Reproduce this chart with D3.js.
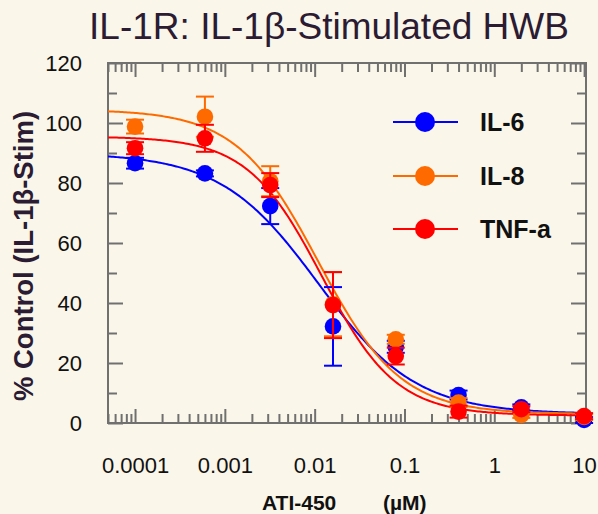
<!DOCTYPE html>
<html>
<head>
<meta charset="utf-8">
<script src="https://cdn.jsdelivr.net/npm/d3@7"></script>
<style>
  html, body { margin: 0; padding: 0; background: #FAF6E9; }
  svg { display: block; }
  text { font-family: "Liberation Sans", Arial, sans-serif; }
</style>
</head>
<body>
<svg id="chart" width="598" height="514"></svg>
<script>
// ---- data ----
const concentrations = [0.0001, 0.0006, 0.0032, 0.016, 0.08, 0.4, 2, 10];
const seriesNames = ["IL-6", "IL-8", "TNF-a"];
const seriesColors = ["#0000FF", "#FF6A00", "#FF0000"];
const il6 = [86.6, 83.2, 72.3, 32.2, 25.4, 9.3, 5.2, 1.0];
const il6Err = [1.8, 1.0, 6.0, 13.1, 2.0, 1.5, 1.0, 1.0];
const il8 = [98.8, 102.1, 80.6, 39.6, 27.9, 6.8, 2.7, 2.0];
const il8Err = [2.3, 6.7, 5.0, 10.7, 1.5, 1.5, 1.0, 1.0];
const tnf = [91.6, 94.9, 79.3, 39.3, 22.3, 3.8, 4.6, 2.3];
const tnfErr = [2.0, 4.5, 4.0, 11.0, 2.8, 2.0, 1.0, 1.0];
// four-parameter logistic fit parameters
const fitTop = [90, 104.5, 95.5];
const fitBottom = [3, 3, 2.5];
const fitIC50 = [0.011, 0.011, 0.012];
const fitHill = [0.8, 0.95, 1.05];
const xTickValues = [0.0001, 0.001, 0.01, 0.1, 1, 10];
const xTickLabels = ["0.0001", "0.001", "0.01", "0.1", "1", "10"];
const yTickValues = [0, 20, 40, 60, 80, 100, 120];

const values = [il6, il8, tnf];
const errors = [il6Err, il8Err, tnfErr];

// ---- layout ----
const svg = d3.select("#chart");
const L = 108, R = 586, T = 63, B = 423;
const x = d3.scaleLog().domain([5e-5, 10.5]).range([L, R]);
const y = d3.scaleLinear().domain([0, 120]).range([B, T]);
const axisColor = "#707070";

svg.append("rect").attr("width", 598).attr("height", 514).attr("fill", "#FAF6E9");

// title
svg.append("text").attr("x", 329).attr("y", 39)
  .attr("text-anchor", "middle").attr("font-size", 37).attr("fill", "#2B1B33")
  .text("IL-1R: IL-1β-Stimulated HWB");

// minor tick values
const xMinor = [];
[1e-5, 1e-4, 1e-3, 1e-2, 1e-1, 1, 10].forEach(d => {
  for (let k = 2; k <= 9; k++) {
    const v = d * k;
    if (v >= 5e-5 && v <= 10.5) xMinor.push(v);
  }
});
const yMinor = [10, 30, 50, 70, 90, 110];

function styleAxis(g) {
  g.select(".domain").remove();
  g.selectAll(".tick line").attr("stroke", axisColor).attr("stroke-width", 2);
  g.selectAll(".tick text").attr("fill", "#111").attr("font-size", 22)
    .attr("font-family", '"Liberation Sans", Arial, sans-serif');
}

// bottom axis
svg.append("g").attr("transform", `translate(0,${B})`)
  .call(d3.axisBottom(x).tickValues(xTickValues).tickFormat((d, i) => xTickLabels[i]).tickSize(-14).tickPadding(34))
  .call(styleAxis);
svg.append("g").attr("transform", `translate(0,${B})`)
  .call(d3.axisBottom(x).tickValues(xMinor).tickFormat("").tickSize(-9))
  .call(styleAxis);
// top axis
svg.append("g").attr("transform", `translate(0,${T})`)
  .call(d3.axisTop(x).tickValues(xTickValues).tickFormat("").tickSize(-14))
  .call(styleAxis);
svg.append("g").attr("transform", `translate(0,${T})`)
  .call(d3.axisTop(x).tickValues(xMinor).tickFormat("").tickSize(-9))
  .call(styleAxis);
// left axis
svg.append("g").attr("transform", `translate(${L},0)`)
  .call(d3.axisLeft(y).tickValues(yTickValues).tickSize(-15).tickPadding(26))
  .call(styleAxis);
svg.append("g").attr("transform", `translate(${L},0)`)
  .call(d3.axisLeft(y).tickValues(yMinor).tickFormat("").tickSize(-9))
  .call(styleAxis);
// right axis
svg.append("g").attr("transform", `translate(${R},0)`)
  .call(d3.axisRight(y).tickValues(yTickValues).tickFormat("").tickSize(-15))
  .call(styleAxis);
svg.append("g").attr("transform", `translate(${R},0)`)
  .call(d3.axisRight(y).tickValues(yMinor).tickFormat("").tickSize(-9))
  .call(styleAxis);

// frame
svg.append("rect").attr("x", L).attr("y", T).attr("width", R - L).attr("height", B - T)
  .attr("fill", "none").attr("stroke", axisColor).attr("stroke-width", 2);

// axis titles
svg.append("text").attr("transform", "translate(33,256) rotate(-90)")
  .attr("text-anchor", "middle").attr("font-size", 27.5).attr("font-weight", "bold")
  .attr("fill", "#2B1B33").text("% Control (IL-1β-Stim)");
svg.append("text").attr("x", 262).attr("y", 510).attr("font-size", 21)
  .attr("font-weight", "bold").attr("fill", "#111").text("ATI-450");
svg.append("text").attr("x", 383).attr("y", 510).attr("font-size", 21)
  .attr("font-weight", "bold").attr("fill", "#111").text("(µM)");

// clip
svg.append("clipPath").attr("id", "plotclip").append("rect")
  .attr("x", L).attr("y", T).attr("width", R - L).attr("height", B - T);

// fitted curves
const logSamples = d3.range(Math.log10(5e-5), Math.log10(10.5) + 0.001, 0.02).map(v => Math.pow(10, v));
const line = d3.line().x(d => x(d[0])).y(d => y(d[1]));
const curveG = svg.append("g").attr("clip-path", "url(#plotclip)");
seriesNames.forEach((name, s) => {
  const pts = logSamples.map(c => [c, fitBottom[s] + (fitTop[s] - fitBottom[s]) / (1 + Math.pow(c / fitIC50[s], fitHill[s]))]);
  curveG.append("path").datum(pts).attr("d", line)
    .attr("fill", "none").attr("stroke", seriesColors[s]).attr("stroke-width", 2);
});

// error bars and points
seriesNames.forEach((name, s) => {
  const g = svg.append("g");
  const data = concentrations.map((c, i) => ({c, v: values[s][i], e: errors[s][i]}));
  const eb = g.selectAll(".eb").data(data).enter().append("g")
    .attr("stroke", seriesColors[s]).attr("stroke-width", 2);
  eb.append("line").attr("x1", d => x(d.c)).attr("x2", d => x(d.c))
    .attr("y1", d => y(d.v + d.e)).attr("y2", d => y(d.v - d.e));
  eb.append("line").attr("x1", d => x(d.c) - 9).attr("x2", d => x(d.c) + 9)
    .attr("y1", d => y(d.v + d.e)).attr("y2", d => y(d.v + d.e));
  eb.append("line").attr("x1", d => x(d.c) - 9).attr("x2", d => x(d.c) + 9)
    .attr("y1", d => y(d.v - d.e)).attr("y2", d => y(d.v - d.e));
  g.selectAll("circle").data(data).enter().append("circle")
    .attr("cx", d => x(d.c)).attr("cy", d => y(d.v)).attr("r", 8.3)
    .attr("fill", seriesColors[s]);
});

// legend
const legendY = [122, 176, 229];
seriesNames.forEach((name, s) => {
  const g = svg.append("g").attr("transform", `translate(0,${legendY[s]})`);
  g.append("line").attr("x1", 393).attr("x2", 458).attr("y1", 0).attr("y2", 0)
    .attr("stroke", seriesColors[s]).attr("stroke-width", 2);
  g.append("circle").attr("cx", 425).attr("cy", 0).attr("r", 10).attr("fill", seriesColors[s]);
  g.append("text").attr("x", 480).attr("y", 9).attr("font-size", 25).attr("font-weight", "bold")
    .attr("fill", "#111").text(name);
});
</script>
</body>
</html>
